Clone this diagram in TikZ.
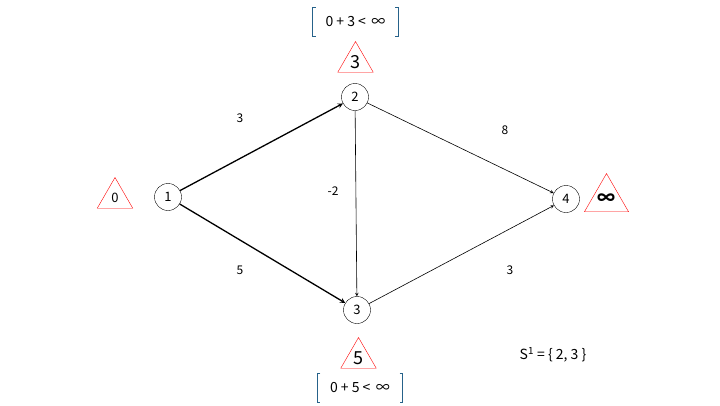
\documentclass[tikz,border=0pt]{standalone}
\usepackage{fontspec}
\setmainfont{Noto Sans CJK JP}
\usetikzlibrary{shapes.geometric, positioning, arrows}
\definecolor{bracketblue}{RGB}{38,98,138}
\tikzset{
    >=stealth, % arrow heads
    vertex/.style={circle, draw, thin, minimum size=27pt, inner sep=0pt, font=\fontsize{13}{15}\selectfont}, % graph nodes
    dist/.style={regular polygon, regular polygon sides=3, draw=red, thin, minimum size=41pt, inner sep=0pt}, % distance marks
    weight/.style={font=\fontsize{12}{14}\selectfont}, % edge weights
    edgethin/.style={->, line width=0.6pt},
    edgebold/.style={->, line width=1.3pt},
    update/.style={minimum width=85pt, minimum height=28pt, inner sep=0pt, font=\fontsize{14}{16}\selectfont},
    bracket/.style={draw=bracketblue, line width=0.9pt},
}
\begin{document}
\begin{tikzpicture}[x=1pt, y=-1pt]
    \useasboundingbox (0,0) rectangle (720,405);
    % graph
    \node[vertex] (v1) at (168,197) {1};
    \node[vertex] (v2) at (355,97) {2};
    \node[vertex] (v3) at (357,310) {3};
    \node[vertex] (v4) at (566,199) {4};
    \draw[edgebold] (v1) -- (v2);
    \draw[edgebold] (v1) -- (v3);
    \draw[edgethin] (v2) -- (v3);
    \draw[edgethin] (v2) -- (v4);
    \draw[edgethin] (v3) -- (v4);
    \node[weight] (w12) at (240,118) {3};
    \node[weight] (w13) at (240,270) {5};
    \node[weight] (w23) at (333,191) {-2};
    \node[weight] (w24) at (505,130) {8};
    \node[weight] (w34) at (510,270) {3};
    % distances
    \node[dist, font=\fontsize{13}{15}\selectfont] (d1) at (115,198) {0};
    \node[dist, font=\fontsize{18}{20}\selectfont] (d2) at (355.5,62) {3};
    \node[dist, font=\fontsize{18}{20}\selectfont] (d3) at (358.5,358) {5};
    \node[dist, font=\fontsize{18}{20}\selectfont\bfseries] (d4) at (606.5,199) {∞};
    % updates
    \node[update] (u2) at (355.5,22) {0 + 3 < \,∞};
    \node[update] (u3) at (360,388) {0 + 5 < \,∞};
    \foreach \u in {u2,u3}{
        \draw[bracket] ([xshift=3pt]\u.north west) -- (\u.north west) -- (\u.south west) -- ([xshift=3pt]\u.south west);
        \draw[bracket] ([xshift=-3pt]\u.north east) -- (\u.north east) -- (\u.south east) -- ([xshift=-3pt]\u.south east);
    }
    \node[font=\fontsize{14}{16}\selectfont] (set) at (553,355) {S\textsuperscript{1} = \{ 2, 3 \}};
\end{tikzpicture}
\end{document}
